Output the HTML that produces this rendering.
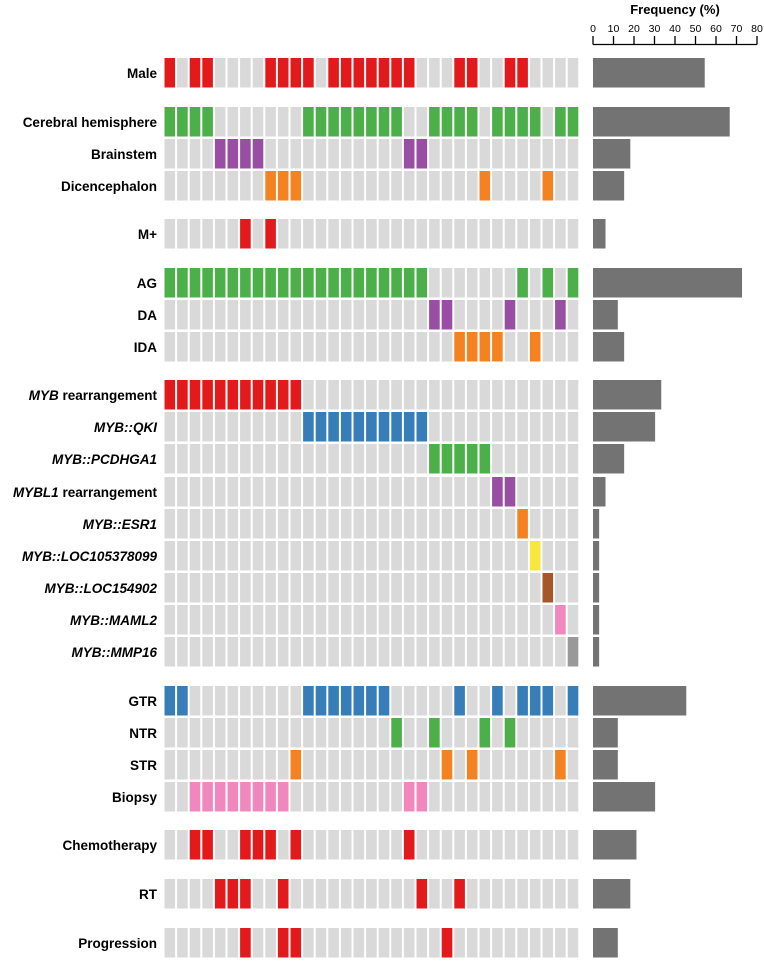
<!DOCTYPE html>
<html><head><meta charset="utf-8"><style>
html,body{margin:0;padding:0;background:#fff;}
svg text{font-family:"Liberation Sans",Arial,sans-serif;}
</style></head><body>
<svg id="chart" width="764" height="958" xmlns="http://www.w3.org/2000/svg"></svg>
<script>
const rowLabels = ["Male","Cerebral hemisphere","Brainstem","Dicencephalon","M+","AG","DA","IDA","MYB rearrangement","MYB::QKI","MYB::PCDHGA1","MYBL1 rearrangement","MYB::ESR1","MYB::LOC105378099","MYB::LOC154902","MYB::MAML2","MYB::MMP16","GTR","NTR","STR","Biopsy","Chemotherapy","RT","Progression"];
const rowTops = [58,107,139,171,219,268,300,332,380,412,444,477,509,541,573,605,637,686,718,750,782,830,879,928];
const rowColors = ["#e31a1c","#4daf4a","#984ea3","#f58220","#e31a1c","#4daf4a","#984ea3","#f58220","#e31a1c","#377eb8","#4daf4a","#984ea3","#f58220","#f5e83a","#a65628","#f088bd","#999999","#377eb8","#4daf4a","#f58220","#f088bd","#e31a1c","#e31a1c","#e31a1c"];
const rowHits = [
 [0,2,3,8,9,10,11,13,14,15,16,17,18,19,23,24,27,28],
 [0,1,2,3,11,12,13,14,15,16,17,18,21,22,23,24,26,27,28,29,31,32],
 [4,5,6,7,19,20],
 [8,9,10,25,30],
 [6,8],
 [0,1,2,3,4,5,6,7,8,9,10,11,12,13,14,15,16,17,18,19,20,28,30,32],
 [21,22,27,31],
 [23,24,25,26,29],
 [0,1,2,3,4,5,6,7,8,9,10],
 [11,12,13,14,15,16,17,18,19,20],
 [21,22,23,24,25],
 [26,27],
 [28],[29],[30],[31],[32],
 [0,1,11,12,13,14,15,16,17,23,26,28,29,30,32],
 [18,21,25,27],
 [10,22,24,31],
 [2,3,4,5,6,7,8,9,19,20],
 [2,3,6,7,8,10,19],
 [4,5,6,9,20,23],
 [6,9,10,22]
];
const frequencies = [54.5,66.7,18.2,15.2,6.1,72.7,12.1,15.2,33.3,30.3,15.2,6.1,3.0,3.0,3.0,3.0,3.0,45.5,12.1,12.1,30.3,21.2,18.2,12.1];
const tickValues = [0,10,20,30,40,50,60,70,80];
const nCols = 33;

const NS="http://www.w3.org/2000/svg";
const svg=document.getElementById('chart');
function mk(tag,attrs){const e=document.createElementNS(NS,tag);for(const k in attrs)e.setAttribute(k,attrs[k]);svg.appendChild(e);return e;}
const colX = i => 164.5 + i*12.6;
const cellW = 10.6, cellH = 29.5;
const fx = v => 593 + v*2.05;

rowLabels.forEach((lab,r)=>{
  const y=rowTops[r];
  const t=mk('text',{x:157,y:y+cellH/2+5,'text-anchor':'end','font-size':'13.5','font-weight':'bold',fill:'#000'});
  
  
  const m=lab.match(/^(MYBL1|MYB)(::\S+)?(.*)$/);
  if(m){
    const s1=document.createElementNS(NS,'tspan');s1.setAttribute('font-style','italic');s1.textContent=m[1]+(m[2]||'');t.appendChild(s1);
    if(m[3]){const s2=document.createElementNS(NS,'tspan');s2.textContent=m[3];t.appendChild(s2);}
  } else t.textContent=lab;
  for(let c=0;c<nCols;c++){
    const hit=rowHits[r].includes(c);
    const rc=mk('rect',{x:colX(c),y:y,width:cellW,height:cellH,fill:hit?rowColors[r]:'#d9d9d9'});
    
    
  }
  const b=mk('rect',{x:fx(0),y:y,width:fx(frequencies[r])-fx(0),height:cellH,fill:'#737373'});
  
  
});

const title=mk('text',{x:675,y:14,'text-anchor':'middle','font-size':'13','font-weight':'bold',fill:'#000'});


title.textContent='Frequency (%)';
const ax=mk('line',{x1:fx(0),x2:fx(80),y1:44.5,y2:44.5,stroke:'#000','stroke-width':1.3});


tickValues.forEach(v=>{
  const tk=mk('line',{x1:fx(v),x2:fx(v),y1:36,y2:44.5,stroke:'#000','stroke-width':1.3});
  
  
  const tl=mk('text',{x:fx(v),y:32,'text-anchor':'middle','font-size':'10.5',fill:'#000'});
  
  
  tl.textContent=v;
});
</script>
</body></html>
